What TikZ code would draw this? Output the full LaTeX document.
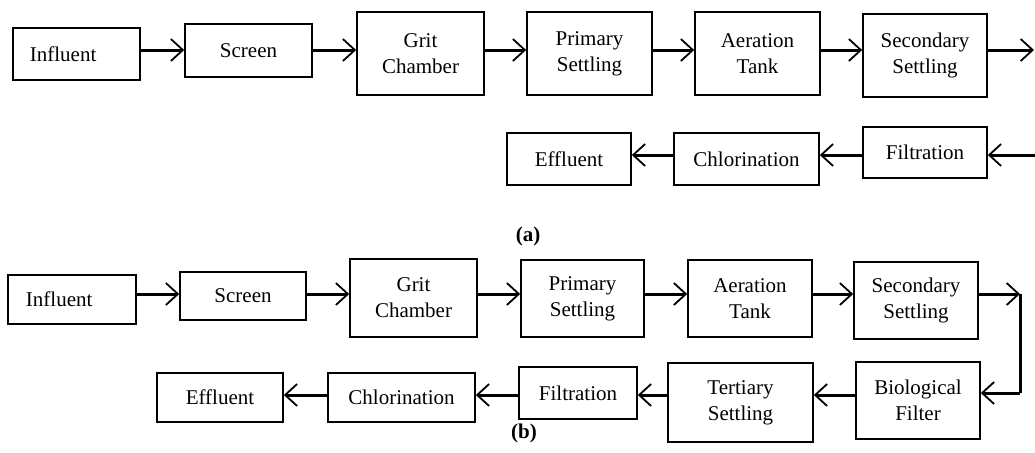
\documentclass[tikz,border=0pt]{standalone}
\usepackage{fontspec}
\setmainfont{Liberation Serif}
\usetikzlibrary{arrows.meta}
\begin{document}
\begin{tikzpicture}[x=0.5pt,y=-0.5pt,
  box/.style={draw,line width=0.8pt,inner sep=0pt,align=center,
    font=\fontsize{10.5}{13}\selectfont},
  arr/.style={line width=1.5pt,-{Straight Barb[length=6pt,width=11pt,line width=0.9pt]}},
  ln/.style={line width=1.5pt},
  lbl/.style={font=\fontsize{10.5}{13}\selectfont\bfseries}]
\useasboundingbox (0,0) rectangle (1035,452);
% ---------- (a) ----------
\node[box,minimum width=63.5pt,minimum height=26pt,text width=55pt,align=left] (inA) at (76.5,54) {\hspace*{4.2pt}Influent};
\node[box,minimum width=63.5pt,minimum height=26.5pt] (scA) at (248.5,50.5) {Screen};
\node[box,minimum width=63.5pt,minimum height=41.5pt] (gcA) at (420.5,53.5) {Grit\\Chamber};
\node[box,minimum width=62.5pt,minimum height=41.5pt] (psA) at (589.5,53.5) {Primary\\Settling};
\node[box,minimum width=62.5pt,minimum height=41.5pt] (atA) at (757.5,53.5) {Aeration\\Tank};
\node[box,minimum width=62pt,minimum height=41.5pt] (ssA) at (925,55.5) {Secondary\\Settling};
\node[box,minimum width=62pt,minimum height=25.5pt] (fiA) at (925,152.5) {Filtration};
\node[box,minimum width=72.5pt,minimum height=26pt] (chA) at (746.5,159) {Chlorination};
\node[box,minimum width=62pt,minimum height=26pt] (efA) at (569,159) {Effluent};
\coordinate (rowA) at (0,50);
\coordinate (rowA2) at (0,155);
\coordinate (outA) at (1034,50);
\coordinate (inRA) at (1035,155);
\draw[arr] (inA.east |- rowA) -- (scA.west |- rowA);
\draw[arr] (scA.east |- rowA) -- (gcA.west |- rowA);
\draw[arr] (gcA.east |- rowA) -- (psA.west |- rowA);
\draw[arr] (psA.east |- rowA) -- (atA.west |- rowA);
\draw[arr] (atA.east |- rowA) -- (ssA.west |- rowA);
\draw[arr] (ssA.east |- rowA) -- (outA);
\draw[arr] (inRA) -- (fiA.east |- rowA2);
\draw[arr] (fiA.west |- rowA2) -- (chA.east |- rowA2);
\draw[arr] (chA.west |- rowA2) -- (efA.east |- rowA2);
\node[lbl] (la) at (528,236) {(a)};
% ---------- (b) ----------
\node[box,minimum width=64pt,minimum height=24.5pt,text width=55pt,align=left] (inB) at (72,299.5) {\hspace*{4.5pt}Influent};
\node[box,minimum width=63pt,minimum height=24pt] (scB) at (243,296) {Screen};
\node[box,minimum width=63.5pt,minimum height=39pt] (gcB) at (413.5,298) {Grit\\Chamber};
\node[box,minimum width=61.5pt,minimum height=38.5pt] (psB) at (582.5,298.5) {Primary\\Settling};
\node[box,minimum width=62pt,minimum height=38.5pt] (atB) at (750,298.5) {Aeration\\Tank};
\node[box,minimum width=62pt,minimum height=38.5pt] (ssB) at (916,300.5) {Secondary\\Settling};
\node[box,minimum width=62pt,minimum height=38.5pt] (bfB) at (918,400.5) {Biological\\Filter};
\node[box,minimum width=72.5pt,minimum height=39.5pt] (tsB) at (740.5,402.5) {Tertiary\\Settling};
\node[box,minimum width=59pt,minimum height=26pt] (fiB) at (578,393) {Filtration};
\node[box,minimum width=73.5pt,minimum height=24.5pt] (chB) at (401.5,397.5) {Chlorination};
\node[box,minimum width=63pt,minimum height=24.5pt] (efB) at (220,397.5) {Effluent};
\coordinate (rowB) at (0,294);
\coordinate (rowB2) at (0,395);
\coordinate (c1) at (1020,294);
\coordinate (c2) at (1020,393);
\draw[arr] (inB.east |- rowB) -- (scB.west |- rowB);
\draw[arr] (scB.east |- rowB) -- (gcB.west |- rowB);
\draw[arr] (gcB.east |- rowB) -- (psB.west |- rowB);
\draw[arr] (psB.east |- rowB) -- (atB.west |- rowB);
\draw[arr] (atB.east |- rowB) -- (ssB.west |- rowB);
\draw[arr] (ssB.east |- rowB) -- (c1);
\draw[ln] (c1) -- (c2);
\draw[arr] (c2) -- (bfB.east |- c2);
\draw[arr] (bfB.west |- rowB2) -- (tsB.east |- rowB2);
\draw[arr] (tsB.west |- rowB2) -- (fiB.east |- rowB2);
\draw[arr] (fiB.west |- rowB2) -- (chB.east |- rowB2);
\draw[arr] (chB.west |- rowB2) -- (efB.east |- rowB2);
\node[lbl] (lb) at (524,433) {(b)};
\end{tikzpicture}
\end{document}
